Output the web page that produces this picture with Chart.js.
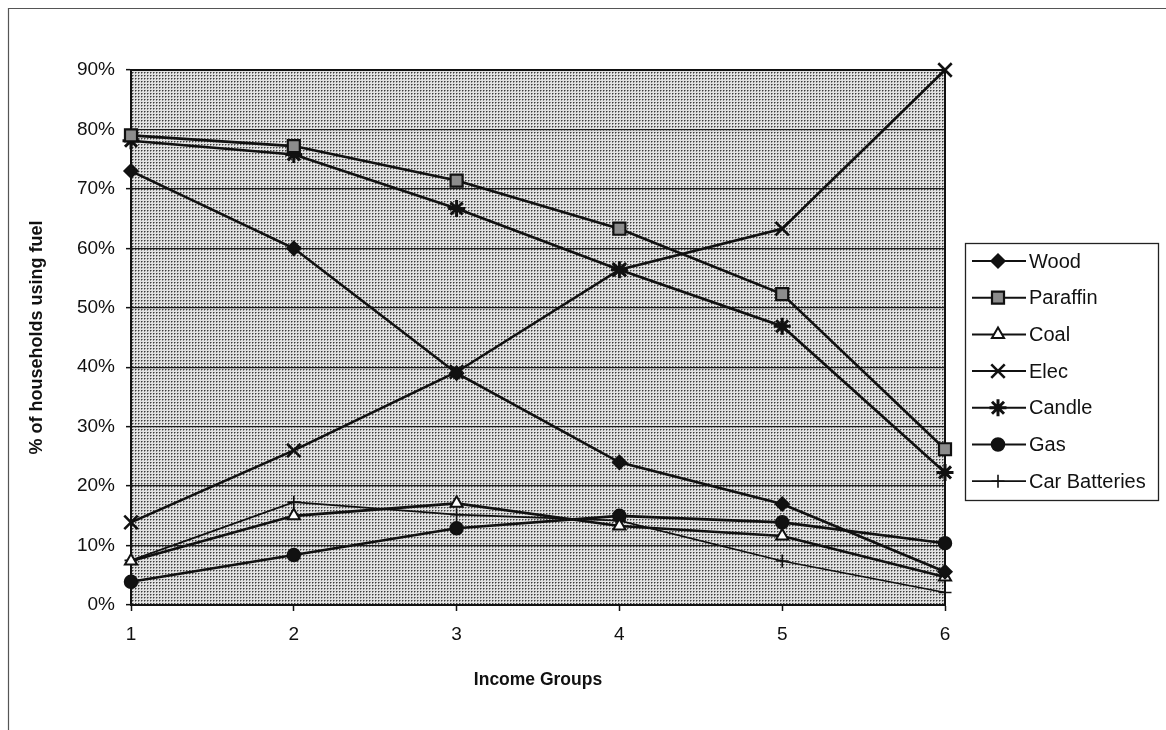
<!DOCTYPE html>
<html>
<head>
<meta charset="utf-8">
<title>Household fuel use by income group</title>
<script src="https://cdn.jsdelivr.net/npm/chart.js@4/dist/chart.umd.min.js"></script>
<style>
  html, body { margin: 0; padding: 0; background: #ffffff; }
  #wrap { width: 1166px; height: 730px; position: relative; }
</style>
</head>
<body>
<div id="wrap"><canvas id="fuelChart" width="1166" height="730"></canvas></div>
<script>
// Income groups along the x axis
const incomeGroups = ['1', '2', '3', '4', '5', '6'];

// Share of households using each fuel (%)
const wood         = [73.0, 60.0, 39.0, 24.0, 17.0, 5.6];
const paraffin     = [79.0, 77.2, 71.4, 63.3, 52.3, 26.2];
const coal         = [7.4, 15.0, 17.1, 13.3, 11.6, 4.7];
const elec         = [13.9, 26.0, 39.2, 56.4, 63.3, 90.0];
const candle       = [78.1, 75.8, 66.7, 56.4, 46.9, 22.3];
const gas          = [3.9, 8.4, 12.9, 15.0, 13.9, 10.4];
const carBatteries = [7.5, 17.3, 15.2, 14.2, 7.4, 2.1];

// Y axis range and step (%)
const yMin = 0;
const yMax = 90;
const yStep = 10;

const FONT = "'Liberation Sans', Arial, sans-serif";
const INK = '#111111';

// Stippled grey fill for the plot area
function makeStipple() {
  const c = document.createElement('canvas');
  c.width = 6; c.height = 6;
  const g = c.getContext('2d');
  g.fillStyle = '#e2e2e2';
  g.fillRect(0, 0, 6, 6);
  const dot = (x, y) => {
    g.fillStyle = '#3c3c3c';
    g.fillRect(x, y, 1, 1);
    g.fillStyle = '#8e8e8e';
    g.fillRect(x + 1, y, 1, 1);
    g.fillRect(x, y + 1, 1, 1);
  };
  dot(0, 0); dot(3, 0); dot(0, 3); dot(3, 3);
  return g.createPattern(c, 'repeat');
}

const baseCtx = document.getElementById('fuelChart').getContext('2d');
const stipple = makeStipple();

function series(label, data, style) {
  return Object.assign({
    label: label,
    data: data,
    borderColor: INK,
    backgroundColor: INK,
    pointBorderColor: INK,
    borderWidth: 2.6,
    pointBorderWidth: 1.5,
    tension: 0,
    fill: false,
    clip: false
  }, style);
}

const datasets = [
  series('Wood', wood, { pointStyle: 'rectRot', pointRadius: 7, pointBackgroundColor: INK }),
  series('Paraffin', paraffin, { pointStyle: 'rect', pointRadius: 8.5, pointBackgroundColor: '#8c8c8c', pointBorderWidth: 2.2 }),
  series('Coal', coal, { pointStyle: 'triangle', pointRadius: 7, pointBackgroundColor: '#ffffff', pointBorderWidth: 2 }),
  series('Elec', elec, { pointStyle: 'crossRot', pointRadius: 9.5, pointBorderWidth: 2.6 }),
  series('Candle', candle, { pointStyle: 'star', pointRadius: 8.5, pointBorderWidth: 3 }),
  series('Gas', gas, { pointStyle: 'circle', pointRadius: 6.5, pointBackgroundColor: INK }),
  series('Car Batteries', carBatteries, { pointStyle: 'cross', pointRadius: 6.5, pointBorderWidth: 1.6, borderWidth: 1.7 })
];

// Page frame, stippled plot background and plot border
const framePlugin = {
  id: 'frame',
  beforeDraw(chart) {
    const ctx = chart.ctx;
    const a = chart.chartArea;
    ctx.save();
    ctx.fillStyle = '#ffffff';
    ctx.fillRect(0, 0, chart.width, chart.height);
    ctx.strokeStyle = '#555555';
    ctx.lineWidth = 1.2;
    ctx.beginPath();
    ctx.moveTo(8.5, chart.height);
    ctx.lineTo(8.5, 8.5);
    ctx.lineTo(chart.width, 8.5);
    ctx.stroke();
    ctx.fillStyle = stipple;
    ctx.fillRect(a.left, a.top, a.right - a.left, a.bottom - a.top);
    ctx.restore();
  },
  beforeDatasetsDraw(chart) {
    const ctx = chart.ctx;
    const a = chart.chartArea;
    ctx.save();
    ctx.strokeStyle = INK;
    ctx.lineWidth = 2;
    ctx.strokeRect(a.left, a.top, a.right - a.left, a.bottom - a.top);
    ctx.restore();
  }
};

// Boxed legend showing each line with its marker
const legendPlugin = {
  id: 'boxLegend',
  afterDraw(chart) {
    const ctx = chart.ctx;
    const box = { x: 965, y: 243, w: 193, h: 257 };
    const rowTop = 261, rowGap = 36.7;
    ctx.save();
    ctx.fillStyle = '#ffffff';
    ctx.fillRect(box.x, box.y, box.w, box.h);
    ctx.strokeStyle = '#222222';
    ctx.lineWidth = 1.3;
    ctx.strokeRect(box.x + 0.5, box.y + 0.5, box.w, box.h);
    chart.data.datasets.forEach((ds, i) => {
      const y = rowTop + i * rowGap;
      ctx.strokeStyle = INK;
      ctx.lineWidth = Math.min(ds.borderWidth, 2);
      ctx.beginPath();
      ctx.moveTo(972, y);
      ctx.lineTo(1026, y);
      ctx.stroke();
      ctx.fillStyle = ds.pointBackgroundColor || INK;
      ctx.strokeStyle = INK;
      ctx.lineWidth = ds.pointBorderWidth;
      Chart.helpers.drawPoint(ctx, {
        pointStyle: ds.pointStyle,
        radius: ds.pointRadius,
        borderWidth: ds.pointBorderWidth,
        rotation: 0
      }, 998, y);
      ctx.fillStyle = INK;
      ctx.font = '20px ' + FONT;
      ctx.textBaseline = 'middle';
      ctx.textAlign = 'left';
      ctx.fillText(ds.label, 1029, y + 1);
    });
    ctx.restore();
  }
};

new Chart(baseCtx, {
  type: 'line',
  data: { labels: incomeGroups, datasets: datasets },
  plugins: [framePlugin, legendPlugin],
  options: {
    responsive: false,
    devicePixelRatio: 1,
    animation: false,
    events: [],
    layout: { padding: { top: 70, right: 221, left: 0, bottom: 0 } },
    plugins: {
      legend: { display: false },
      tooltip: { enabled: false }
    },
    scales: {
      x: {
        type: 'category',
        offset: false,
        afterFit(scale) { scale.height = 125; },
        grid: {
          drawOnChartArea: false,
          drawTicks: true,
          tickLength: 6,
          tickColor: INK,
          tickWidth: 1.5
        },
        border: { display: true, color: INK, width: 2 },
        ticks: {
          color: INK,
          padding: 12,
          maxRotation: 0,
          font: { family: FONT, size: 19 }
        },
        title: {
          display: true,
          text: 'Income Groups',
          color: INK,
          padding: { top: 0, bottom: 39 },
          font: { family: FONT, size: 17.5, weight: 'bold' }
        }
      },
      y: {
        min: yMin,
        max: yMax,
        afterFit(scale) { scale.width = 131; },
        grid: {
          color: '#1c1c1c',
          lineWidth: 1.3,
          borderDash: [3, 2],
          drawTicks: true,
          tickLength: 5,
          tickColor: INK,
          tickWidth: 1.5,
          tickBorderDash: []
        },
        border: { display: true, color: INK, width: 2 },
        ticks: {
          stepSize: yStep,
          color: INK,
          padding: 11,
          font: { family: FONT, size: 19 },
          callback: (v) => v + '%'
        },
        title: {
          display: true,
          text: '% of households using fuel',
          color: INK,
          padding: { top: 26, bottom: 0 },
          font: { family: FONT, size: 18, weight: 'bold' }
        }
      }
    }
  }
});
</script>
</body>
</html>
